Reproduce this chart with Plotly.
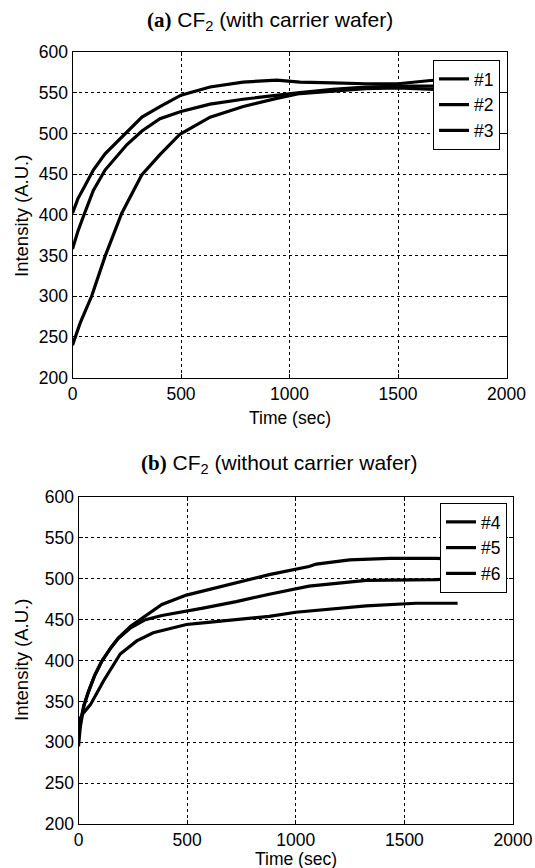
import plotly.graph_objects as go

# ---- data ----
# panel (a): CF2 with carrier wafer
t1 = [0, 25, 50, 96, 150, 250, 320, 403, 500, 634, 786, 941, 1048, 1200, 1350, 1500, 1650, 1750]
v1 = [402, 420, 432, 455, 475, 502, 520, 533, 547, 557, 563, 565.5, 563, 562, 561, 561, 565, 566]
t2 = [0, 25, 50, 96, 150, 250, 320, 403, 500, 634, 786, 941, 1048, 1200, 1350, 1500, 1650, 1750]
v2 = [358, 380, 398, 430, 455, 486, 503, 518, 527, 536, 542, 547, 550, 554, 557, 558, 558, 558]
t3 = [0, 35, 88, 150, 227, 319, 403, 495, 634, 787, 941, 1048, 1200, 1350, 1500, 1650, 1750]
v3 = [240, 267, 300, 349, 402, 449, 474, 499, 520, 533, 543, 549, 552, 555, 556, 554, 553]

# panel (b): CF2 without carrier wafer
t4 = [0, 8, 25, 46, 75, 107, 150, 183, 240, 308, 384, 497, 573, 726, 789, 878, 1061, 1095, 1248, 1431, 1645, 1750]
v4 = [295, 318, 345, 362, 382, 399, 416, 427.5, 442, 454, 468.5, 480, 485, 495, 500, 505, 515, 518, 523, 525, 525, 524]
t5 = [0, 8, 25, 46, 75, 107, 150, 183, 240, 308, 384, 497, 573, 726, 789, 878, 1061, 1095, 1324, 1645, 1750]
v5 = [305, 325, 345, 362, 382, 399, 416, 427, 440, 450, 455, 460, 464, 472, 476, 481, 491, 492, 498, 499, 500]
t6 = [0, 20, 55, 115, 192, 268, 344, 497, 573, 726, 789, 878, 1000, 1324, 1553, 1745]
v6 = [325, 335, 346, 375, 408, 424, 434, 444, 446, 450, 452.6, 454, 459, 466.7, 470, 470]

names_a = ["#1", "#2", "#3"]
names_b = ["#4", "#5", "#6"]
x_ticks = [0, 500, 1000, 1500, 2000]
y_ticks = [200, 250, 300, 350, 400, 450, 500, 550, 600]

W, H = 535, 868
FONT = "Liberation Sans, Arial, Helvetica, sans-serif"
SERIF = "Liberation Serif, Times New Roman, serif"

fig = go.Figure()
line = dict(color="black", width=3.2)
for t, v, n in zip([t1, t2, t3], [v1, v2, v3], names_a):
    fig.add_trace(go.Scatter(x=t, y=v, mode="lines", name=n, line=line,
                             xaxis="x", yaxis="y", legend="legend"))
for t, v, n in zip([t4, t5, t6], [v4, v5, v6], names_b):
    fig.add_trace(go.Scatter(x=t, y=v, mode="lines", name=n, line=line,
                             xaxis="x2", yaxis="y2", legend="legend2"))

def xax(domain, anchor):
    return dict(domain=domain, anchor=anchor, range=[0, 2000], tickvals=x_ticks,
                showgrid=True, gridcolor="black", griddash="dot", gridwidth=1,
                showline=True, linecolor="black", linewidth=1.2, mirror="ticks",
                ticks="inside", ticklen=4, tickcolor="black", zeroline=False,
                tickfont=dict(family=FONT, size=17.5, color="black"),
                automargin=False)

def yax(domain, anchor):
    return dict(domain=domain, anchor=anchor, range=[200, 600], tickvals=y_ticks,
                showgrid=True, gridcolor="black", griddash="dot", gridwidth=1,
                showline=True, linecolor="black", linewidth=1.2, mirror="ticks",
                ticks="inside", ticklen=4, tickcolor="black", zeroline=False,
                tickfont=dict(family=FONT, size=17.5, color="black"),
                automargin=False)

def leg(x, y):
    return dict(x=x, y=y, xanchor="left", yanchor="top", xref="paper", yref="paper",
                bgcolor="white", bordercolor="black", borderwidth=1,
                font=dict(family=FONT, size=17.5, color="black"),
                itemwidth=30, tracegroupgap=0)

fig.update_layout(
    width=W, height=H,
    margin=dict(l=0, r=0, t=0, b=0),
    paper_bgcolor="white", plot_bgcolor="white",
    xaxis=xax([72.5 / W, 506.5 / W], "y"),
    yaxis=yax([1 - 377.7 / H, 1 - 52 / H], "x"),
    xaxis2=xax([78.5 / W, 513 / W], "y2"),
    yaxis2=yax([1 - 824 / H, 1 - 497 / H], "x2"),
    legend=leg(433 / W, 1 - 60 / H),
    legend2=leg(440 / W, 1 - 503 / H),
    showlegend=True,
)

title_font = dict(family=FONT, size=21, color="black")
fig.add_annotation(text='<span style="font-family:' + SERIF + '"><b>(a)</b></span> CF<sub>2</sub> (with carrier wafer)',
                   x=270 / W, y=1 - 21 / H, xref="paper", yref="paper", showarrow=False,
                   xanchor="center", yanchor="middle", font=title_font)
fig.add_annotation(text='<span style="font-family:' + SERIF + '"><b>(b)</b></span> CF<sub>2</sub> (without carrier wafer)',
                   x=279 / W, y=1 - 464 / H, xref="paper", yref="paper", showarrow=False,
                   xanchor="center", yanchor="middle", font=title_font)
for yc in [216, 660]:
    fig.add_annotation(text="Intensity (A.U.)", x=21 / W, y=1 - yc / H, xref="paper", yref="paper",
                       showarrow=False, textangle=-90, xanchor="center", yanchor="middle",
                       font=dict(family=FONT, size=18.5, color="black"))
for xc, yc in [(289.5, 418), (296, 859)]:
    fig.add_annotation(text="Time (sec)", x=xc / W, y=1 - yc / H, xref="paper", yref="paper",
                       showarrow=False, xanchor="center", yanchor="middle",
                       font=dict(family=FONT, size=17.5, color="black"))

fig.write_html("out.html")
